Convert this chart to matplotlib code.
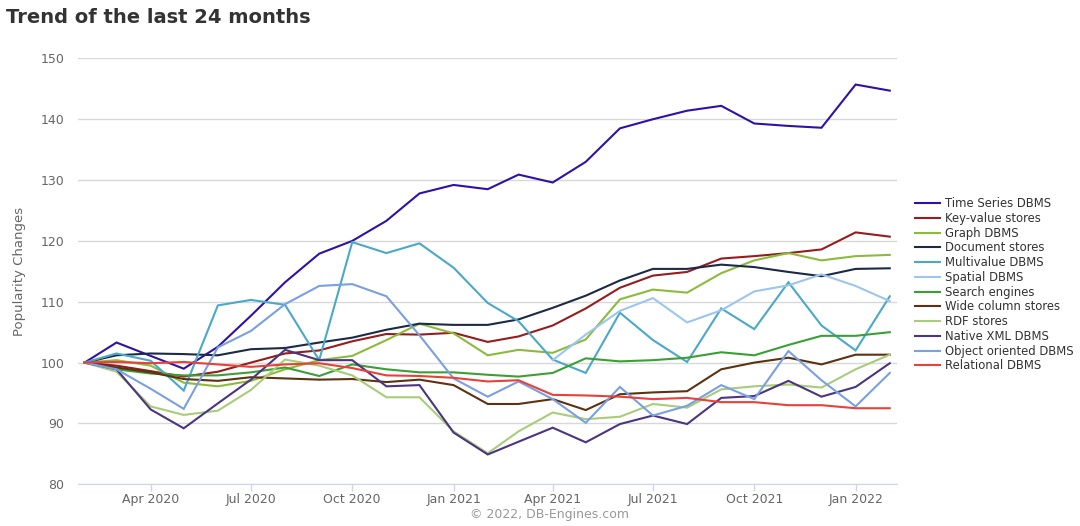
import numpy as np
import pandas as pd
import matplotlib

matplotlib.use("Agg")
import matplotlib.pyplot as plt
import matplotlib.dates as mdates

# monthly points, Feb 2020 .. Feb 2022 (index = 100 at Feb 2020)
months = pd.date_range("2020-02-01", periods=25, freq="MS")

time_series = [100, 103.3, 101.1, 99.0, 102.6, 107.7, 113.2, 117.9, 120.0, 123.3, 127.8, 129.2,
               128.5, 130.9, 129.6, 133.0, 138.5, 140.0, 141.4, 142.2, 139.3, 138.9, 138.6, 145.7, 144.7]
key_value = [100, 99.5, 98.6, 97.7, 98.5, 100.0, 101.5, 102.0, 103.5, 104.7, 104.6, 104.9,
             103.4, 104.3, 106.1, 108.9, 112.3, 114.3, 114.9, 117.1, 117.5, 118.0, 118.6, 121.4, 120.7]
graph = [100, 100.4, 99.5, 96.7, 96.1, 97.0, 98.9, 100.4, 101.1, 103.7, 106.4, 104.8,
         101.2, 102.1, 101.6, 103.8, 110.4, 112.0, 111.5, 114.7, 116.8, 118.0, 116.8, 117.5, 117.7]
document = [100, 101.2, 101.5, 101.4, 101.2, 102.2, 102.4, 103.3, 104.1, 105.4, 106.4, 106.2,
            106.2, 107.1, 109.0, 111.0, 113.5, 115.4, 115.4, 116.1, 115.7, 114.9, 114.2, 115.4, 115.5]
multivalue = [100, 101.5, 100.3, 95.4, 109.4, 110.3, 109.5, 100.4, 119.8, 118.0, 119.6, 115.6,
              109.8, 106.8, 100.5, 98.3, 108.2, 103.7, 100.1, 108.9, 105.5, 113.2, 106.1, 102.0, 110.9]
# spatial only shows from Apr 2021
spatial = [np.nan] * 14 + [100.4, 104.6, 108.5, 110.6, 106.6, 108.6, 111.7, 112.7, 114.5, 112.6, 110.1]
search = [100, 98.9, 98.2, 97.9, 97.9, 98.4, 99.2, 97.8, 99.7, 98.9, 98.4, 98.4,
          98.0, 97.7, 98.3, 100.7, 100.2, 100.4, 100.8, 101.7, 101.2, 102.9, 104.4, 104.4, 105.0]
wide_column = [100, 99.2, 98.4, 97.3, 97.0, 97.6, 97.4, 97.2, 97.3, 96.8, 97.2, 96.3,
               93.2, 93.2, 94.0, 92.2, 94.8, 95.1, 95.3, 98.9, 100.0, 100.8, 99.7, 101.3, 101.3]
rdf = [100, 98.5, 92.8, 91.4, 92.1, 95.5, 100.5, 99.5, 97.9, 94.3, 94.3, 88.7,
       85.1, 88.7, 91.8, 90.7, 91.1, 93.2, 92.6, 95.6, 96.1, 96.4, 95.9, 98.9, 101.3]
native_xml = [100, 98.9, 92.3, 89.2, 93.3, 97.2, 102.1, 100.4, 100.4, 96.1, 96.3, 88.5,
              84.9, 87.0, 89.3, 86.9, 89.9, 91.3, 89.9, 94.2, 94.5, 97.0, 94.4, 96.0, 99.9]
object_oriented = [100, 98.9, 95.7, 92.4, 102.5, 105.2, 109.6, 112.6, 112.9, 110.9, 104.5, 97.4,
                   94.4, 96.9, 94.0, 90.1, 96.0, 91.3, 92.9, 96.3, 94.0, 101.9, 97.1, 92.8, 98.3]
relational = [100, 100.1, 99.9, 100.1, 99.7, 99.3, 99.7, 99.9, 99.1, 97.9, 97.8, 97.5,
              96.9, 97.1, 94.7, 94.6, 94.4, 94.0, 94.2, 93.5, 93.5, 93.0, 93.0, 92.5, 92.5]

series = [
    ("Time Series DBMS", time_series, "#2e12a8"),
    ("Key-value stores", key_value, "#951d1d"),
    ("Graph DBMS", graph, "#8cbb3c"),
    ("Document stores", document, "#1c2a45"),
    ("Multivalue DBMS", multivalue, "#4aa8c9"),
    ("Spatial DBMS", spatial, "#9cc5f0"),
    ("Search engines", search, "#3aa034"),
    ("Wide column stores", wide_column, "#5c3310"),
    ("RDF stores", rdf, "#a9cc7a"),
    ("Native XML DBMS", native_xml, "#4b3580"),
    ("Object oriented DBMS", object_oriented, "#7a9fe3"),
    ("Relational DBMS", relational, "#e8413a"),
]

fig = plt.figure(figsize=(10.8, 5.26), dpi=100)
ax = fig.add_axes([0.0722, 0.0793, 0.7588, 0.8097])

for name, vals, col in series:
    ax.plot(months, vals, color=col, lw=1.5, label=name, solid_joinstyle="miter")

ax.set_ylim(80, 150)
ax.set_yticks(np.arange(80, 151, 10))
ax.set_xlim(pd.Timestamp("2020-01-26"), pd.Timestamp("2022-02-08"))
ax.xaxis.set_major_locator(mdates.MonthLocator(bymonth=[1, 4, 7, 10]))
ax.xaxis.set_major_formatter(mdates.DateFormatter("%b %Y"))

ax.grid(axis="y", color="#d8d8d8", lw=1)
ax.set_axisbelow(True)
for s in ("top", "right", "left"):
    ax.spines[s].set_visible(False)
ax.spines["bottom"].set_color("#ccd6eb")
ax.tick_params(axis="x", colors="#ccd6eb", length=5, width=1, labelcolor="#666666",
               labelsize=9, pad=1.5)
ax.tick_params(axis="y", length=0, labelcolor="#666666", labelsize=9, pad=10)
ax.set_ylabel("Popularity Changes", color="#666666", fontsize=9.5, labelpad=10)

fig.text(0.0055, 0.966, "Trend of the last 24 months", fontsize=14, fontweight="bold",
         color="#333333", va="center", ha="left")
fig.text(0.509, 0.022, "\u00a9 2022, DB-Engines.com", fontsize=9, color="#999999",
         ha="center", va="center")

fig.legend(loc="upper left", bbox_to_anchor=(0.843, 0.634), frameon=False,
           fontsize=8.4, handlelength=2.1, handletextpad=0.5, labelspacing=0.15,
           borderaxespad=0, labelcolor="#333333")

fig.savefig("out.png", dpi=100)
